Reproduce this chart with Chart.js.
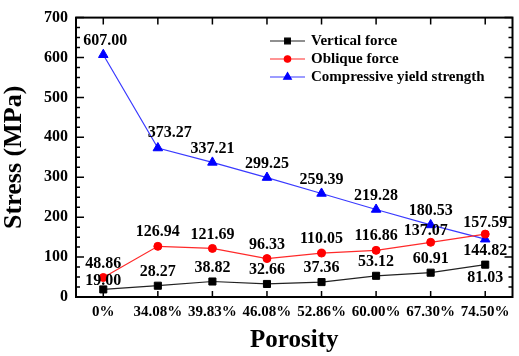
<!DOCTYPE html>
<html>
<head>
<meta charset="utf-8">
<script src="https://cdn.jsdelivr.net/npm/chart.js@4"></script>
<style>
  html, body { margin: 0; padding: 0; background: #fff; }
  #wrap { width: 519px; height: 356px; }
</style>
</head>
<body>
<div id="wrap"><canvas id="stressChart" width="519" height="356"></canvas></div>
<script>
// porosity categories (x axis)
const porosity = ['0%', '34.08%', '39.83%', '46.08%', '52.86%', '60.00%', '67.30%', '74.50%'];

// stress values in MPa
const verticalForce = [19.00, 28.27, 38.82, 32.66, 37.36, 53.12, 60.91, 81.03];
const obliqueForce = [48.86, 126.94, 121.69, 96.33, 110.05, 116.86, 137.07, 157.59];
const compressiveYield = [607.00, 373.27, 337.21, 299.25, 259.39, 219.28, 180.53, 144.82];

const seriesNames = ['Vertical force', 'Oblique force', 'Compressive yield strength'];

// y axis range
const yMin = 0;
const yMax = 700;
const yStep = 100;

const SERIF = '"Liberation Serif", "Times New Roman", serif';

// label nudges (dataset index -> point index -> [dx, dy]); default is above the point
const labelNudge = {
  0: { 0: [0, -9], 7: [0, 13] },
  1: { 6: [-5, -11], 7: [0, -11] },
  2: { 0: [2, -14], 1: [12, -15], 7: [0, 12] }
};

// value labels drawn at each point
const valueLabels = {
  id: 'valueLabels',
  afterDatasetsDraw(chart) {
    const ctx = chart.ctx;
    ctx.save();
    ctx.font = 'bold 16px ' + SERIF;
    ctx.fillStyle = '#000';
    ctx.textAlign = 'center';
    ctx.textBaseline = 'middle';
    chart.data.datasets.forEach((ds, di) => {
      const meta = chart.getDatasetMeta(di);
      meta.data.forEach((pt, i) => {
        const n = (labelNudge[di] && labelNudge[di][i]) || [0, -14];
        ctx.fillText(ds.data[i].toFixed(2), pt.x + n[0], pt.y + n[1]);
      });
    });
    ctx.restore();
  }
};

// closed frame with inward tick marks
const frameTicks = {
  id: 'frameTicks',
  afterDraw(chart) {
    const { ctx, chartArea: a, scales } = chart;
    ctx.save();
    ctx.strokeStyle = '#000';
    ctx.lineWidth = 1.5;
    ctx.beginPath();
    for (let v = yMin; v <= yMax; v += 25) {
      const y = scales.y.getPixelForValue(v);
      const len = v % 100 === 0 ? 8 : 4;
      ctx.moveTo(a.left, y); ctx.lineTo(a.left + len, y);
      ctx.moveTo(a.right, y); ctx.lineTo(a.right - len, y);
    }
    porosity.forEach((p, i) => {
      const x = scales.x.getPixelForValue(i);
      ctx.moveTo(x, a.top); ctx.lineTo(x, a.top + 7);
      ctx.moveTo(x, a.bottom); ctx.lineTo(x, a.bottom - 6);
    });
    ctx.stroke();
    ctx.lineWidth = 2;
    ctx.strokeRect(a.left, a.top, a.right - a.left, a.bottom - a.top);
    ctx.restore();
  }
};

// legend: short line with marker, no frame
const lineLegend = {
  id: 'lineLegend',
  afterDraw(chart) {
    const ctx = chart.ctx;
    ctx.save();
    chart.data.datasets.forEach((ds, i) => {
      const y = 41 + i * 18;
      ctx.strokeStyle = ds.borderColor;
      ctx.lineWidth = 1.2;
      ctx.beginPath();
      ctx.moveTo(270, y); ctx.lineTo(305, y);
      ctx.stroke();
      ctx.fillStyle = ds.pointBackgroundColor;
      ctx.strokeStyle = ds.pointBorderColor;
      Chart.helpers.drawPoint(ctx, { pointStyle: ds.pointStyle, radius: ds.pointRadius * 0.8, borderWidth: 1 }, 287.5, y);
      ctx.fillStyle = '#000';
      ctx.font = 'bold 15px ' + SERIF;
      ctx.textAlign = 'left';
      ctx.textBaseline = 'middle';
      ctx.fillText(ds.label, 311, y);
    });
    ctx.restore();
  }
};

const makeSet = (label, data, line, mark, style, r) => ({
  label: label,
  data: data,
  borderColor: line,
  borderWidth: 1.2,
  pointStyle: style,
  pointRadius: r,
  pointBackgroundColor: mark,
  pointBorderColor: mark,
  pointBorderWidth: 1,
  tension: 0
});

new Chart(document.getElementById('stressChart'), {
  type: 'line',
  data: {
    labels: porosity,
    datasets: [
      makeSet(seriesNames[0], verticalForce, '#222222', '#000000', 'rect', 5),
      makeSet(seriesNames[1], obliqueForce, '#ff2a2a', '#ff0000', 'circle', 4),
      makeSet(seriesNames[2], compressiveYield, '#3a3aff', '#0000ff', 'triangle', 5.5)
    ]
  },
  options: {
    responsive: false,
    animation: false,
    layout: { padding: { top: 8, right: 4, left: 0, bottom: 0 } },
    plugins: {
      legend: { display: false },
      tooltip: { enabled: false }
    },
    scales: {
      x: {
        type: 'category',
        offset: true,
        grid: { display: false, drawTicks: false },
        border: { display: false },
        ticks: {
          color: '#000',
          padding: 6,
          maxRotation: 0,
          autoSkip: false,
          font: { family: SERIF, size: 15, weight: 'bold' }
        },
        title: {
          display: true,
          text: 'Porosity',
          color: '#000',
          padding: 0,
          font: { family: SERIF, size: 25, weight: 'bold' }
        },
        afterFit(scale) { scale.height = 59; }
      },
      y: {
        min: yMin,
        max: yMax,
        grid: { display: false, drawTicks: false },
        border: { display: false },
        ticks: {
          stepSize: yStep,
          color: '#000',
          padding: 8,
          font: { family: SERIF, size: 16, weight: 'bold' }
        },
        title: {
          display: true,
          text: 'Stress (MPa)',
          color: '#000',
          padding: 0,
          font: { family: SERIF, size: 26, weight: 'bold', lineHeight: 1.1 }
        },
        afterFit(scale) { scale.width = 76; }
      }
    }
  },
  plugins: [valueLabels, frameTicks, lineLegend]
});
</script>
</body>
</html>
